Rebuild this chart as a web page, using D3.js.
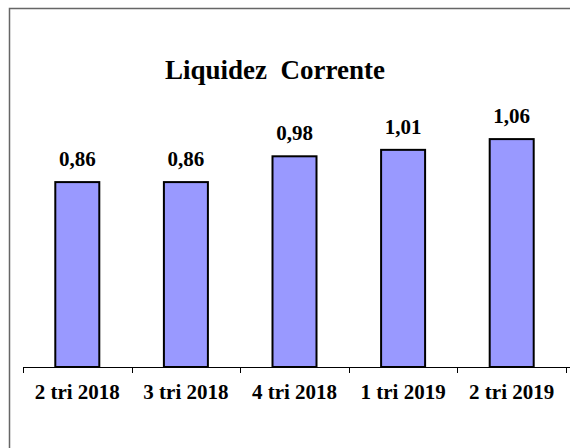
<!DOCTYPE html>
<html>
<head>
<meta charset="utf-8">
<script src="https://d3js.org/d3.v7.min.js"></script>
<style>
  body { margin: 0; background: #fff; }
</style>
</head>
<body>
<div id="chart"></div>
<script>
var periods = ["2 tri 2018", "3 tri 2018", "4 tri 2018", "1 tri 2019", "2 tri 2019"];
var liquidez = [0.86, 0.86, 0.98, 1.01, 1.06];
var labels = ["0,86", "0,86", "0,98", "1,01", "1,06"];

var width = 570, height = 448;
var plotLeft = 23, plotRight = 566, baseY = 367;
var serif = "'Liberation Serif', 'DejaVu Serif', Times, serif";

var svg = d3.select("#chart").append("svg")
    .attr("width", width)
    .attr("height", height)
    .attr("font-family", serif)
    .attr("font-weight", "bold");

// frame (only top and left visible)
svg.append("path")
    .attr("d", "M9.5," + height + "V8.5H" + width)
    .attr("fill", "none")
    .attr("stroke", "#666")
    .attr("stroke-width", 1.5);

var x = d3.scaleBand()
    .domain(periods)
    .range([plotLeft, plotRight]);

var y = d3.scaleLinear()
    .domain([0, 1.2])
    .range([baseY, baseY - 1.2 * 215]);

var barW = 44;

svg.selectAll("rect.bar")
    .data(liquidez)
    .enter().append("rect")
    .attr("class", "bar")
    .attr("x", (d, i) => x(periods[i]) + x.bandwidth() / 2 - barW / 2)
    .attr("y", d => y(d))
    .attr("width", barW)
    .attr("height", d => baseY - y(d))
    .attr("fill", "#9999ff")
    .attr("stroke", "#000")
    .attr("stroke-width", 2);

svg.selectAll("text.val")
    .data(liquidez)
    .enter().append("text")
    .attr("class", "val")
    .attr("x", (d, i) => x(periods[i]) + x.bandwidth() / 2)
    .attr("y", d => y(d) - 16)
    .attr("text-anchor", "middle")
    .attr("font-size", 21)
    .text((d, i) => labels[i]);

// axis line and ticks between categories
svg.append("line")
    .attr("x1", plotLeft).attr("x2", width)
    .attr("y1", baseY + 0.5).attr("y2", baseY + 0.5)
    .attr("stroke", "#000").attr("stroke-width", 1);

var tickXs = periods.map(p => x(p)).concat([plotRight]);
svg.selectAll("line.tick")
    .data(tickXs)
    .enter().append("line")
    .attr("class", "tick")
    .attr("x1", d => Math.round(d) + 0.5).attr("x2", d => Math.round(d) + 0.5)
    .attr("y1", baseY).attr("y2", baseY + 6)
    .attr("stroke", "#000");

svg.selectAll("text.cat")
    .data(periods)
    .enter().append("text")
    .attr("class", "cat")
    .attr("x", d => x(d) + x.bandwidth() / 2)
    .attr("y", 399)
    .attr("text-anchor", "middle")
    .attr("font-size", 21)
    .text(d => d);

svg.append("text")
    .attr("x", 275)
    .attr("y", 79)
    .attr("text-anchor", "middle")
    .attr("font-size", 27)
    .style("white-space", "pre")
    .text("Liquidez  Corrente");
</script>
</body>
</html>
